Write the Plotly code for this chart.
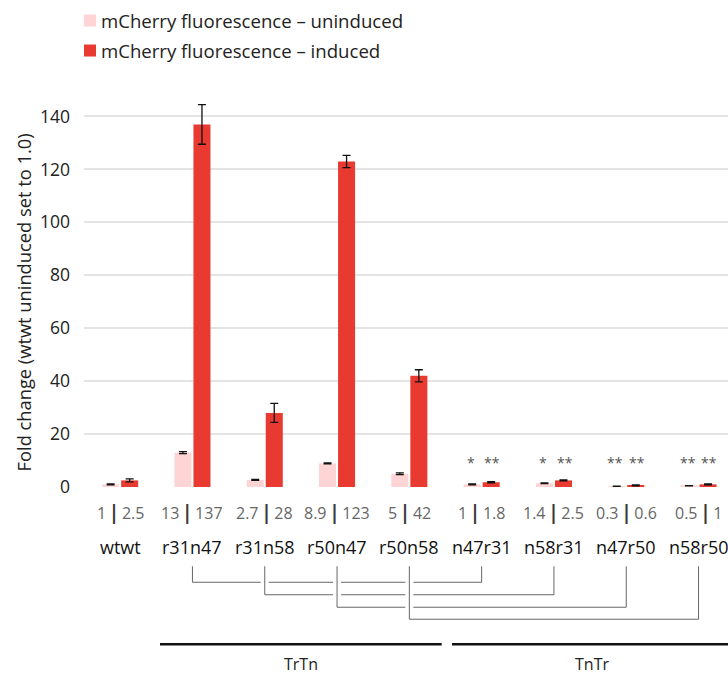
import plotly.graph_objects as go

# ---- data ----
categories = ["wtwt", "r31n47", "r31n58", "r50n47", "r50n58", "n47r31", "n58r31", "n47r50", "n58r50"]
uninduced = [1, 13, 2.7, 8.9, 5, 1, 1.4, 0.3, 0.5]
induced = [2.5, 137, 28, 123, 42, 1.8, 2.5, 0.6, 1]
uninduced_err = [0.2, 0.4, 0.2, 0.2, 0.3, 0.15, 0.15, 0.05, 0.05]
induced_err = [0.6, 7.5, 3.6, 2.3, 2.3, 0.2, 0.2, 0.15, 0.2]
uninduced_lbl = ["1", "13", "2.7", "8.9", "5", "1", "1.4", "0.3", "0.5"]
induced_lbl = ["2.5", "137", "28", "123", "42", "1.8", "2.5", "0.6", "1"]
uninduced_sig = ["", "", "", "", "", "*", "*", "**", "**"]
induced_sig = ["", "", "", "", "", "**", "**", "**", "**"]
series_names = ["mCherry fluorescence \u2013 uninduced", "mCherry fluorescence \u2013 induced"]
group_names = ["TrTn", "TnTr"]
# bracket pairs (index of TrTn construct, index of TnTr construct)
bracket_pairs = [(1, 5), (2, 6), (3, 7), (4, 8)]

C_UN = "#FED4D4"
C_IN = "#E83A31"
FONT = "Open Sans"

W, H = 728, 675
L, R, T, B = 84, 0, 89.5, 188.3
PW = W - L - R
PH = H - T - B
CAT_PX = 72.3
XMAX = -0.5 + PW / CAT_PX


def py(ypx):
    return (H - B - ypx) / PH


def px(xpx):
    return (xpx - L) / PW


x = list(range(len(categories)))

fig = go.Figure()
fig.add_trace(go.Bar(
    x=x, y=uninduced, name=series_names[0], marker_color=C_UN, marker_line_width=0,
    error_y=dict(type="data", array=uninduced_err, color="#111", thickness=1.3, width=4),
    showlegend=False))
fig.add_trace(go.Bar(
    x=x, y=induced, name=series_names[1], marker_color=C_IN, marker_line_width=0,
    error_y=dict(type="data", array=induced_err, color="#111", thickness=1.3, width=4),
    showlegend=False))

annotations = []
shapes = []


def ann(**kw):
    d = dict(showarrow=False, xanchor="center", yanchor="middle")
    d.update(kw)
    annotations.append(d)


# manual legend
for k, (nm, col) in enumerate(zip(series_names, [C_UN, C_IN])):
    yc = [20, 50][k]
    shapes.append(dict(type="rect", xref="paper", yref="paper",
                       x0=px(84), x1=px(96), y0=py(yc - 6), y1=py(yc + 6),
                       fillcolor=col, line_width=0))
    ann(text=nm, xref="paper", yref="paper", x=px(99), y=py(yc), xanchor="left",
        font=dict(size=18.6, color="#222", family=FONT))

# y-axis title
ann(text="Fold change (wtwt uninduced set to 1.0)", xref="paper", yref="paper",
    x=px(23), y=py(302), textangle=-90, font=dict(size=18.3, color="#222", family=FONT))

off = 19 / 2 / CAT_PX
sig_off = 10.8 / CAT_PX
for i in x:
    ann(text=(f'{uninduced_lbl[i]}\u2009<span style="color:#3a3a3a;font-size:19px"><b>|</b></span>'
              f'\u2009{induced_lbl[i]}'),
        x=i, xref="x", yref="paper", y=py(511.5), font=dict(size=16, color="#666", family=FONT))
    ann(text=categories[i], x=i, xref="x", yref="paper", y=py(546.5),
        font=dict(size=18, color="#111", family=FONT))
    for sig, dx in ((uninduced_sig[i], -sig_off), (induced_sig[i], sig_off)):
        if sig:
            ann(text=sig, x=i + dx, xref="x", yref="paper", y=py(462),
                font=dict(size=14, color="#555", family=FONT))

# brackets linking reversed constructs
h_px = [582.0, 594.5, 607.0, 619.0]
top_px = 566
gap = 4 / CAT_PX
lc = dict(color="#666", width=1)
for b, (a, c) in enumerate(bracket_pairs):
    for xv in (a, c):
        shapes.append(dict(type="line", xref="x", yref="paper", x0=xv, x1=xv,
                           y0=py(top_px), y1=py(h_px[b]), line=lc))
    # horizontal with gaps where later brackets' verticals cross
    cuts = [bracket_pairs[j][0] for j in range(b + 1, len(bracket_pairs))]
    start = a
    segs = []
    for ct in cuts:
        segs.append((start, ct - gap))
        start = ct + gap
    segs.append((start, c))
    for s0, s1 in segs:
        shapes.append(dict(type="line", xref="x", yref="paper", x0=s0, x1=s1,
                           y0=py(h_px[b]), y1=py(h_px[b]), line=lc))

# group lines
for (g0, g1, gx), nm in zip([(160, 441.7, 300.5), (452, 730, 592)], group_names):
    shapes.append(dict(type="line", xref="paper", yref="paper", x0=px(g0), x1=px(g1),
                       y0=py(644), y1=py(644), line=dict(color="#111", width=2.5)))
    ann(text=nm, xref="paper", yref="paper", x=px(gx), y=py(664),
        font=dict(size=16, color="#222", family=FONT))

fig.update_layout(
    width=W, height=H, margin=dict(l=L, r=R, t=T, b=B, autoexpand=False),
    paper_bgcolor="white", plot_bgcolor="white",
    barmode="group", bargap=0.474, bargroupgap=0.105,
    font=dict(family=FONT, color="#222"),
    xaxis=dict(range=[-0.5, XMAX], showticklabels=False, showgrid=False, zeroline=False,
               showline=False, ticks="", fixedrange=True),
    yaxis=dict(range=[0, 150], tickvals=[0, 20, 40, 60, 80, 100, 120, 140],
               showgrid=True, gridcolor="#e4e4e4", gridwidth=1.6, zeroline=False,
               showline=False, ticks="", ticklabelstandoff=13,
               tickfont=dict(size=17.5, color="#222", family=FONT), automargin=False),
    annotations=annotations, shapes=shapes,
)

fig.write_html("out.html")
